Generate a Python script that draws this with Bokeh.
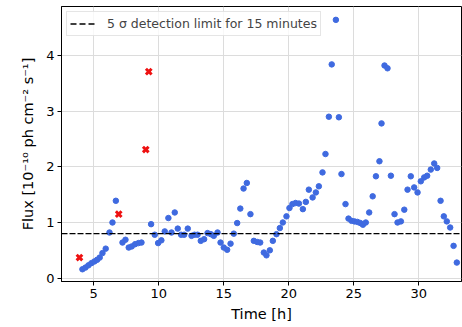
from bokeh.plotting import figure
from bokeh.models import Span, FixedTicker, Range1d, Legend, LegendItem
from bokeh.embed import file_html
from bokeh.resources import INLINE

# Light curve (blue points)
time_h = [4.13, 4.36, 4.59, 4.82, 5.05, 5.26, 5.46, 5.67, 5.92, 6.21, 6.44, 6.70, 7.21, 7.44, 7.69, 7.92, 8.18, 8.44, 8.67,
          9.41, 9.69, 9.95, 10.20, 10.46, 10.74, 10.98, 11.23, 11.46, 11.72, 11.95, 12.23, 12.52, 12.75, 12.98, 13.23, 13.49, 13.75, 14.00, 14.23, 14.52,
          14.75, 15.00, 15.26, 15.52, 15.77, 16.03, 16.27, 16.52, 16.77, 17.05, 17.31, 17.57, 17.80, 18.08, 18.28, 18.54, 18.77, 19.05, 19.31, 19.54, 19.82,
          20.05, 20.28, 20.52, 20.78, 21.08, 21.31, 21.54, 21.83, 22.08, 22.31, 22.59, 22.82, 23.08, 23.30, 23.62, 23.85, 24.05, 24.36, 24.59, 24.82,
          25.05, 25.28, 25.50, 25.70, 25.92, 26.18, 26.45, 26.70, 26.97, 27.13, 27.36, 27.59, 27.85, 28.13, 28.36, 28.62, 28.88, 29.13, 29.38, 29.64, 29.90,
          30.15, 30.41, 30.64, 30.92, 31.18, 31.41, 31.67, 31.92, 32.15, 32.41, 32.67, 32.92]
flux = [0.16, 0.19, 0.23, 0.27, 0.30, 0.33, 0.37, 0.45, 0.53, 0.82, 1.00, 1.39, 0.64, 0.69, 0.55, 0.57, 0.61, 0.63, 0.64,
        0.97, 0.78, 0.63, 0.68, 0.84, 1.08, 0.82, 1.18, 0.89, 0.78, 0.78, 0.89, 0.76, 0.78, 0.78, 0.67, 0.70, 0.81, 0.79, 0.76, 0.82,
        0.64, 0.55, 0.51, 0.62, 0.80, 0.99, 1.25, 1.61, 1.71, 1.15, 0.67, 0.65, 0.64, 0.46, 0.41, 0.50, 0.67, 0.79, 0.90, 1.00, 1.11,
        1.26, 1.33, 1.35, 1.34, 1.24, 1.37, 1.59, 1.45, 1.54, 1.65, 1.90, 2.23, 2.90, 3.84, 4.64, 2.89, 1.87, 1.33, 1.07, 1.03,
        1.02, 1.01, 0.99, 0.96, 1.00, 1.18, 1.47, 1.83, 2.10, 2.78, 3.82, 3.77, 1.84, 1.15, 1.00, 1.02, 1.23, 1.59, 1.83, 1.63, 1.54,
        1.74, 1.81, 1.84, 1.95, 2.06, 1.98, 1.39, 1.11, 1.02, 0.91, 0.58, 0.28]

# Red crosses
red_time = [3.90, 6.92, 9.00, 9.23]
red_flux = [0.37, 1.15, 2.31, 3.71]

detection_limit = 0.8
legend_text = "5 \u03c3 detection limit for 15 minutes"
x_ticks = [5, 10, 15, 20, 25, 30]
y_ticks = [0, 1, 2, 3, 4]

FONT = "DejaVu Sans"

p = figure(width=462, height=327, output_backend="svg", toolbar_location=None,
           x_range=Range1d(2.52, 33.28), y_range=Range1d(-0.06, 4.88),
           min_border_left=61, min_border_right=1, min_border_top=6, min_border_bottom=46)
p.background_fill_color = "white"
p.border_fill_color = "white"
p.outline_line_color = "black"
p.outline_line_width = 1

for ax in (p.xaxis[0], p.yaxis[0]):
    ax.major_label_text_font = FONT
    ax.major_label_text_font_size = "13px"
    ax.major_label_text_color = "black"
    ax.axis_label_text_font = FONT
    ax.axis_label_text_font_size = "14.5px"
    ax.axis_label_text_font_style = "normal"
    ax.axis_label_text_color = "black"
    ax.major_tick_in = 0
    ax.major_tick_out = 4
    ax.minor_tick_in = 0
    ax.minor_tick_out = 0
    ax.axis_line_color = "black"
    ax.major_tick_line_color = "black"
    ax.major_label_standoff = 3

p.xaxis[0].ticker = FixedTicker(ticks=x_ticks)
p.yaxis[0].ticker = FixedTicker(ticks=y_ticks)
p.xaxis[0].axis_label = "Time [h]"
p.yaxis[0].axis_label = "Flux [10\u207b\u00b9\u2070 ph cm\u207b\u00b2 s\u207b\u00b9]"
p.xaxis[0].axis_label_standoff = 5
p.yaxis[0].axis_label_standoff = 7

p.xgrid.ticker = FixedTicker(ticks=x_ticks)
p.ygrid.ticker = FixedTicker(ticks=y_ticks)
p.grid.grid_line_color = "#dcdcdc"
p.grid.grid_line_width = 1

p.add_layout(Span(location=detection_limit, dimension="width", line_color="black",
                  line_dash="6 2", line_width=1.4))
# legend proxy (off-screen data so only the legend glyph shows)
legend_line = p.line(x=[0, 1], y=[-100, -100], line_color="black", line_dash="6 3", line_width=1.4)

p.scatter(time_h, flux, size=5.5, marker="circle", fill_color="#3f6ae0", line_color="#3f6ae0")
p.scatter(red_time, red_flux, size=8, marker="x", line_color="#ee1111", line_width=3)

legend = Legend(items=[LegendItem(label=legend_text, renderers=[legend_line])],
                location="top_left", margin=5, padding=3, spacing=0,
                glyph_width=25, glyph_height=17, label_standoff=12, label_height=17,
                label_text_font=FONT, label_text_font_size="12.5px",
                border_line_color="#cccccc", border_line_width=1,
                background_fill_color="white", background_fill_alpha=0.8)
p.add_layout(legend)

open("out.html", "w").write(file_html(p, INLINE))
